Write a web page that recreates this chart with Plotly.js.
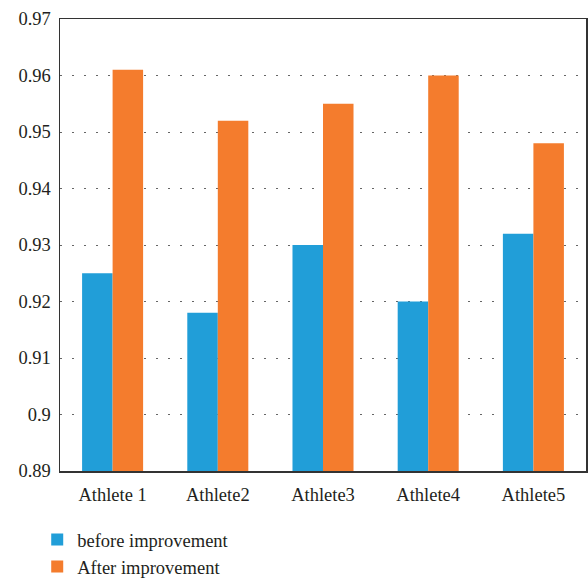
<!DOCTYPE html>
<html>
<head>
<meta charset="utf-8">
<script src="https://cdn.plot.ly/plotly-3.0.1.min.js"></script>
<style>
  html, body { margin: 0; padding: 0; background: #fff; }
  #chart { width: 588px; height: 578px; }
</style>
</head>
<body>
<div id="chart"></div>
<script>
// Athletes compared before and after the improvement
const athletes = ["Athlete 1", "Athlete2", "Athlete3", "Athlete4", "Athlete5"];
const beforeValues = [0.925, 0.918, 0.930, 0.920, 0.932];
const afterValues = [0.961, 0.952, 0.955, 0.960, 0.948];
const seriesNames = ["before improvement", "After improvement"];
const yTicks = [0.89, 0.90, 0.91, 0.92, 0.93, 0.94, 0.95, 0.96, 0.97];
const yTickLabels = ["0.89", "0.9", "0.91", "0.92", "0.93", "0.94", "0.95", "0.96", "0.97"];

const serif = "'Liberation Serif', 'DejaVu Serif', serif";
const textColor = "#231f20";

const traces = [
  {
    type: "bar",
    name: seriesNames[0],
    x: athletes,
    y: beforeValues,
    marker: { color: "#219ED8" },
    base: 0
  },
  {
    type: "bar",
    name: seriesNames[1],
    x: athletes,
    y: afterValues,
    marker: { color: "#F47C2D" },
    base: 0
  }
];

const layout = {
  width: 588,
  height: 578,
  // fixed margins so the legend below the axes does not resize the plot area
  margin: { l: 60, r: 2, t: 19, b: 107, autoexpand: false },
  paper_bgcolor: "#fff",
  plot_bgcolor: "#fff",
  barmode: "group",
  bargap: 0.42,
  bargroupgap: 0,
  font: { family: serif, size: 18.5, color: textColor },
  showlegend: true,
  legend: {
    orientation: "v",
    xref: "container",
    yref: "container",
    x: 0.0633,
    xanchor: "left",
    y: 0.0986,
    yanchor: "top",
    font: { family: serif, size: 18.5, color: textColor },
    tracegroupgap: 0,
    bgcolor: "rgba(0,0,0,0)"
  },
  xaxis: {
    type: "category",
    showline: true,
    linecolor: "#333",
    linewidth: 1.5,
    mirror: true,
    showgrid: false,
    ticks: "",
    tickfont: { family: serif, size: 18.5, color: textColor },
    ticklabelstandoff: 6
  },
  yaxis: {
    range: [0.89, 0.97],
    tickvals: yTicks,
    ticktext: yTickLabels,
    showline: true,
    linecolor: "#333",
    linewidth: 1.5,
    mirror: true,
    showgrid: true,
    gridcolor: "#666",
    gridwidth: 1,
    griddash: "1.5px,10.5px",
    zeroline: false,
    ticks: "",
    tickfont: { family: serif, size: 18.5, color: textColor },
    ticklabelstandoff: 4
  }
};

Plotly.newPlot("chart", traces, layout, { displayModeBar: false, staticPlot: true });
</script>
</body>
</html>
